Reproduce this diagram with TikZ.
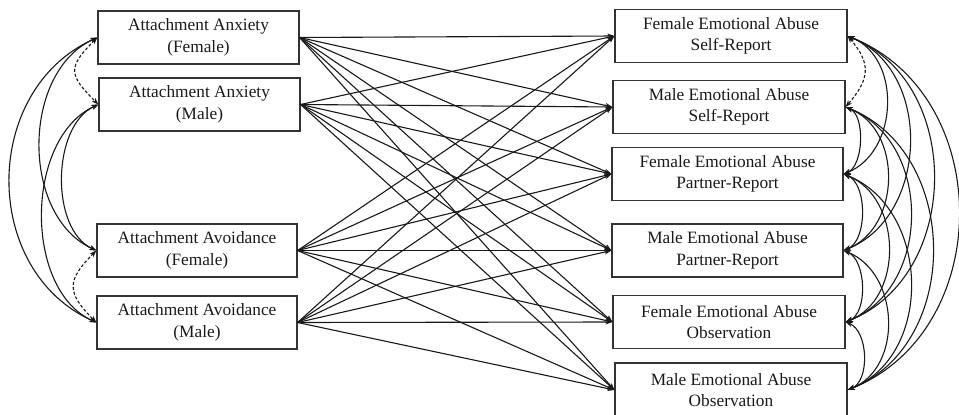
\documentclass[tikz,border=0pt]{standalone}
\usepackage{fontspec}
\setmainfont{Liberation Serif}
\usetikzlibrary{arrows.meta}
\newcommand\lcov[4][]{\draw[cov,#1] (#2.west) .. controls +({-#4/0.75},{0.45*#4/0.75}) and +({-#4/0.75},{-0.45*#4/0.75}) .. (#3.west);}
\newcommand\rcov[4][]{\draw[cov,#1] (#2.east) .. controls +({#4/0.75},{0.4*#4/0.75}) and +({#4/0.75},{-0.4*#4/0.75}) .. (#3.east);}
\begin{document}
\begin{tikzpicture}[x=1pt,y=-1pt,
  box/.style={draw=black!80, line width=1.2pt, align=center, inner sep=0pt,
    font=\fontsize{17.3}{21.5}\selectfont, text=black!90, minimum height=53pt},
  lbox/.style={box, minimum width=200pt},
  rbox/.style={box, minimum width=232pt},
  reg/.style={line width=1.1pt, black!90, -{Stealth[length=7pt,width=5pt]}},
  cov/.style={line width=1.1pt, black!90, {Stealth[length=7pt,width=5pt]}-{Stealth[length=7pt,width=5pt]}},
  dsh/.style={dashed, dash pattern=on 3pt off 2pt}
]
\useasboundingbox (0,0) rectangle (959,415);

\node[lbox, minimum width=201pt] (L1) at (198.5,37.5) {Attachment Anxiety\\(Female)};
\node[lbox, minimum width=201pt] (L2) at (199.5,104.5) {Attachment Anxiety\\(Male)};
\node[lbox] (L3) at (197,250.5) {Attachment Avoidance\\(Female)};
\node[lbox] (L4) at (197,322.5) {Attachment Avoidance\\(Male)};

\node[rbox] (R1) at (731,36) {Female Emotional Abuse\\Self-Report};
\node[rbox] (R2) at (729,107) {Male Emotional Abuse\\Self-Report};
\node[rbox, minimum width=231pt] (R3) at (727.5,174) {Female Emotional Abuse\\Partner-Report};
\node[rbox, minimum width=231pt] (R4) at (727.5,250.5) {Male Emotional Abuse\\Partner-Report};
\node[rbox] (R5) at (729,322) {Female Emotional Abuse\\Observation};
\node[rbox, minimum height=54pt] (R6) at (731,390) {Male Emotional Abuse\\Observation};

\foreach \l in {L1,L2,L3,L4}
  \foreach \r in {R1,R2,R3,R4,R5,R6}
    \draw[reg] (\l.east) -- (\r.west);

% left covariances
\draw[cov,dsh] (L1.west) .. controls +(-30,30) and +(-30,-30) .. (L2.west);
\draw[cov,dsh] (L3.west) .. controls +(-30,30) and +(-30,-30) .. (L4.west);
\lcov{L1}{L3}{57}
\lcov{L1}{L4}{87}
\lcov{L2}{L3}{35}
\lcov{L2}{L4}{55}

% right covariances
\draw[cov,dsh] (R1.east) .. controls +(24,28) and +(24,-28) .. (R2.east);
\rcov{R2}{R3}{15}
\rcov{R3}{R4}{18}
\rcov{R4}{R5}{17}
\rcov{R5}{R6}{17}
\rcov{R1}{R3}{41}
\rcov{R2}{R4}{43}
\rcov{R3}{R5}{44}
\rcov{R4}{R6}{42}
\rcov{R1}{R4}{64}
\rcov{R2}{R5}{65}
\rcov{R3}{R6}{65}
\rcov{R1}{R5}{87}
\rcov{R2}{R6}{86}
\rcov{R1}{R6}{111}
\end{tikzpicture}
\end{document}
